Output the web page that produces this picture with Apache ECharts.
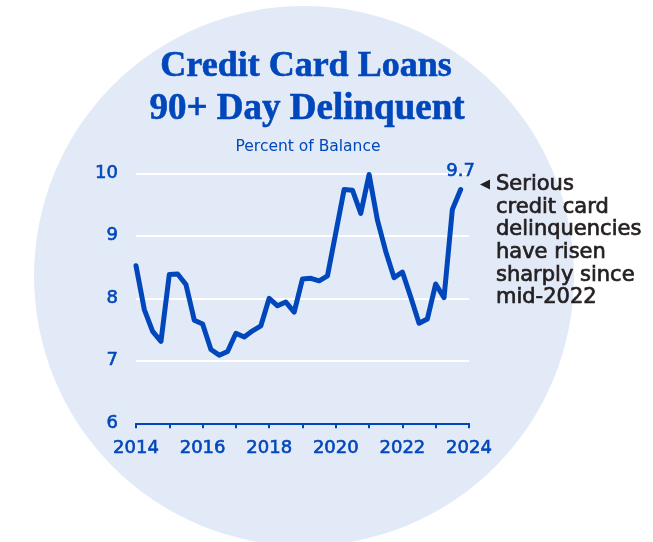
<!DOCTYPE html>
<html>
<head>
<meta charset="utf-8">
<script src="https://cdn.jsdelivr.net/npm/echarts@6/dist/echarts.min.js"></script>
<style>
html,body{margin:0;padding:0;background:#ffffff;}
#chart{width:653px;height:542px;}
</style>
</head>
<body>
<div id="chart"></div>
<script>
// Quarterly observations (decimal year)
const dates = [
  2014.00, 2014.25, 2014.50, 2014.75,
  2015.00, 2015.25, 2015.50, 2015.75,
  2016.00, 2016.25, 2016.50, 2016.75,
  2017.00, 2017.25, 2017.50, 2017.75,
  2018.00, 2018.25, 2018.50, 2018.75,
  2019.00, 2019.25, 2019.50, 2019.75,
  2020.00, 2020.25, 2020.50, 2020.75,
  2021.00, 2021.25, 2021.50, 2021.75,
  2022.00, 2022.25, 2022.50, 2022.75,
  2023.00, 2023.25, 2023.50, 2023.75
];
// Percent of balance 90+ days delinquent
const values = [
  8.52, 7.82, 7.47, 7.31,
  8.38, 8.39, 8.22, 7.65,
  7.59, 7.18, 7.09, 7.15,
  7.44, 7.38, 7.48, 7.56,
  8.00, 7.88, 7.94, 7.78,
  8.31, 8.32, 8.28, 8.36,
  9.05, 9.74, 9.73, 9.36,
  9.98, 9.25, 8.75, 8.33,
  8.42, 8.02, 7.60, 7.67,
  8.23, 8.01, 9.42, 9.74
];
const yTicks = [6, 7, 8, 9, 10];
const xLabelYears = [2014, 2016, 2018, 2020, 2022, 2024];
const titleLines = ['Credit Card Loans', '90+ Day Delinquent'];
const subtitle = 'Percent of Balance';
const lastLabel = '9.7';
const noteLines = ['Serious', 'credit card', 'delinquencies', 'have risen', 'sharply since', 'mid-2022'];

const BLUE = '#0047bb';
const DARK = '#231f20';
const chart = echarts.init(document.getElementById('chart'), null, {renderer: 'canvas'});

const seriesData = dates.map((d, i) => {
  const item = {value: [d, values[i]]};
  if (i === dates.length - 1) {
    item.label = {
      show: true, position: 'top', distance: 9,
      formatter: lastLabel, color: BLUE,
      fontFamily: 'DejaVu Sans', fontSize: 18,
      textBorderColor: BLUE, textBorderWidth: 0.6
    };
  }
  return item;
});

const option = {
  backgroundColor: '#ffffff',
  animation: false,
  grid: {left: 136, right: 184, top: 173.3, bottom: 118.7, containLabel: false},
  xAxis: {
    type: 'value', min: 2014, max: 2024, interval: 1,
    axisLine: {show: true, lineStyle: {color: BLUE, width: 2}},
    axisTick: {show: true, length: 5, lineStyle: {color: BLUE, width: 2}},
    splitLine: {show: false},
    axisLabel: {
      margin: 16, color: BLUE, fontFamily: 'DejaVu Sans', fontSize: 18,
      textBorderColor: BLUE, textBorderWidth: 0.6,
      formatter: v => xLabelYears.indexOf(v) >= 0 ? String(v) : ''
    }
  },
  yAxis: {
    type: 'value', min: yTicks[0], max: yTicks[yTicks.length - 1], interval: 1,
    axisLine: {show: false}, axisTick: {show: false},
    splitLine: {show: true, lineStyle: {color: '#ffffff', width: 2}},
    axisLabel: {margin: 18, color: BLUE, fontFamily: 'DejaVu Sans', fontSize: 18,
      textBorderColor: BLUE, textBorderWidth: 0.6}
  },
  graphic: [
    {type: 'circle', z: -100, silent: true,
      shape: {cx: 304, cy: 276, r: 270}, style: {fill: '#e3eaf7'}},
    {type: 'text', x: 306, y: 67, style: {
      text: titleLines[0], textAlign: 'center', textVerticalAlign: 'middle',
      font: 'bold 36px "Liberation Serif"', fill: BLUE, stroke: BLUE, lineWidth: 0.6}},
    {type: 'text', x: 307, y: 109, style: {
      text: titleLines[1], textAlign: 'center', textVerticalAlign: 'middle',
      font: 'bold 37px "Liberation Serif"', fill: BLUE, stroke: BLUE, lineWidth: 0.6}},
    {type: 'text', x: 308, y: 147, style: {
      text: subtitle, textAlign: 'center', textVerticalAlign: 'middle',
      font: '15.5px "DejaVu Sans"', fill: BLUE}},
    {type: 'polygon', shape: {points: [[480, 184.5], [490, 179.5], [490, 189.5]]},
      style: {fill: '#222222'}},
    {type: 'text', x: 496, y: 173.5, style: {
      text: noteLines.join('\n'), textAlign: 'left', textVerticalAlign: 'top',
      font: '21px "DejaVu Sans"', lineHeight: 22.6, fill: DARK, stroke: DARK, lineWidth: 0.7}}
  ],
  series: [{
    type: 'line', data: seriesData, showSymbol: true, symbol: 'circle', symbolSize: 0,
    lineStyle: {color: BLUE, width: 5, join: 'round', cap: 'round'},
    itemStyle: {color: BLUE}, z: 5
  }]
};
chart.setOption(option);
</script>
</body>
</html>
